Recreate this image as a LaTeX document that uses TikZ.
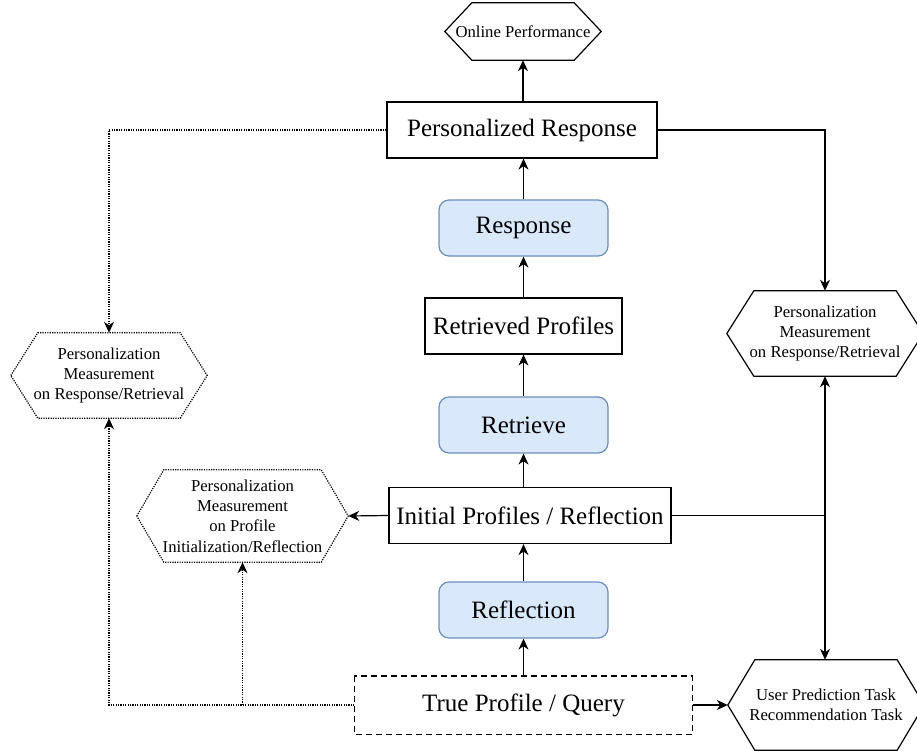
\documentclass[tikz,border=0pt]{standalone}
\usepackage{fontspec}
\setmainfont{Liberation Serif}
\usetikzlibrary{arrows.meta}
\definecolor{bluefill}{HTML}{DAE8FC}
\definecolor{bluedraw}{HTML}{6C8EBF}
\tikzset{
  bigtext/.style={font=\fontsize{25}{30}\selectfont},
  smalltext/.style={font=\fontsize{16.7}{20.4}\selectfont, align=center},
  plainbox/.style={draw, line width=1.2pt, bigtext, inner sep=0pt, minimum height=56pt},
  bluebox/.style={draw=bluedraw, fill=bluefill, line width=1.2pt, rounded corners=10pt, bigtext, inner sep=0pt, minimum height=56pt, minimum width=169pt},
  hexnode/.style={smalltext, inner sep=0pt},
  arr/.style={-{Stealth[length=11pt,width=10pt,inset=3.5pt]}, line width=1.2pt},
  dotline/.style={dash pattern=on 1.2pt off 1.2pt, line width=1.2pt},
  dashline/.style={dash pattern=on 6pt off 4pt, line width=1.2pt},
}
\newcommand\hexpath[2]{\draw[line width=1.2pt,#2] (#1.west) -- ([xshift=27pt]#1.north west) -- ([xshift=-27pt]#1.north east) -- (#1.east) -- ([xshift=-27pt]#1.south east) -- ([xshift=27pt]#1.south west) -- cycle;}
\begin{document}
\begin{tikzpicture}[x=1pt,y=-1pt]
\fill[white] (0,0) rectangle (917,750);
\clip (0,0) rectangle (917,750);

% central column
\node[hexnode, minimum width=156pt, minimum height=57pt] (online) at (523,31.5) {Online Performance};
\hexpath{online}{}
\node[plainbox, minimum width=270pt] (persresp) at (522,130) {Personalized Response};
\node[bluebox] (response) at (523.5,228) {Response};
\node[plainbox, minimum width=197pt] (retprof) at (523.5,326) {Retrieved Profiles};
\node[bluebox] (retrieve) at (523.5,425) {Retrieve};
\node[plainbox, minimum width=282pt] (initprof) at (530,515.5) {Initial Profiles / Reflection};
\node[bluebox] (reflection) at (523.5,610) {Reflection};
\node[plainbox, draw=none, minimum width=337pt, minimum height=57pt] (trueprof) at (523.5,705) {True Profile / Query};
\draw[dashline] (trueprof.north west) rectangle (trueprof.south east);

% hexagons
\node[hexnode, minimum width=196pt, minimum height=85pt] (hexR) at (825,333.5) {Personalization\\Measurement\\on Response/Retrieval};
\hexpath{hexR}{}
\node[hexnode, minimum width=196pt, minimum height=85pt] (hexL) at (109,375.5) {Personalization\\Measurement\\on Response/Retrieval};
\hexpath{hexL}{dotline}
\node[hexnode, minimum width=211pt, minimum height=92pt] (hexP) at (242.5,516) {Personalization\\Measurement\\on Profile\\Initialization/Reflection};
\hexpath{hexP}{dotline}
\node[hexnode, minimum width=196pt, minimum height=90pt] (userpred) at (826,705) {User Prediction Task\\Recommendation Task};
\hexpath{userpred}{}

% vertical chain
\draw[arr] (online.south |- persresp.north) -- (online.south);
\draw[arr] (response.north) -- (response.north |- persresp.south);
\draw[arr] (retprof.north) -- (response.south);
\draw[arr] (retrieve.north) -- (retprof.south);
\draw[arr] (retrieve.south |- initprof.north) -- (retrieve.south);
\draw[arr] (reflection.north) -- (reflection.north |- initprof.south);
\draw[arr] (trueprof.north) -- (reflection.south);

% right side
\draw[arr] (persresp.east) -| (hexR.north);
\coordinate (junc) at (hexR.south |- initprof.east);
\draw[line width=1.2pt] (initprof.east) -- (junc);
\draw[arr] (junc) -- (hexR.south);
\draw[arr] (junc) -- (junc |- userpred.north);
\draw[arr] (trueprof.east) -- (userpred.west);

% left side
\draw[arr] (initprof.west) -- (hexP.east);
\draw[arr, dotline] (persresp.west) -| (hexL.north);
\draw[arr, dotline] (trueprof.west) -| (hexL.south);
\draw[arr, dotline] (hexP.south |- trueprof.west) -- (hexP.south);
\end{tikzpicture}
\end{document}
